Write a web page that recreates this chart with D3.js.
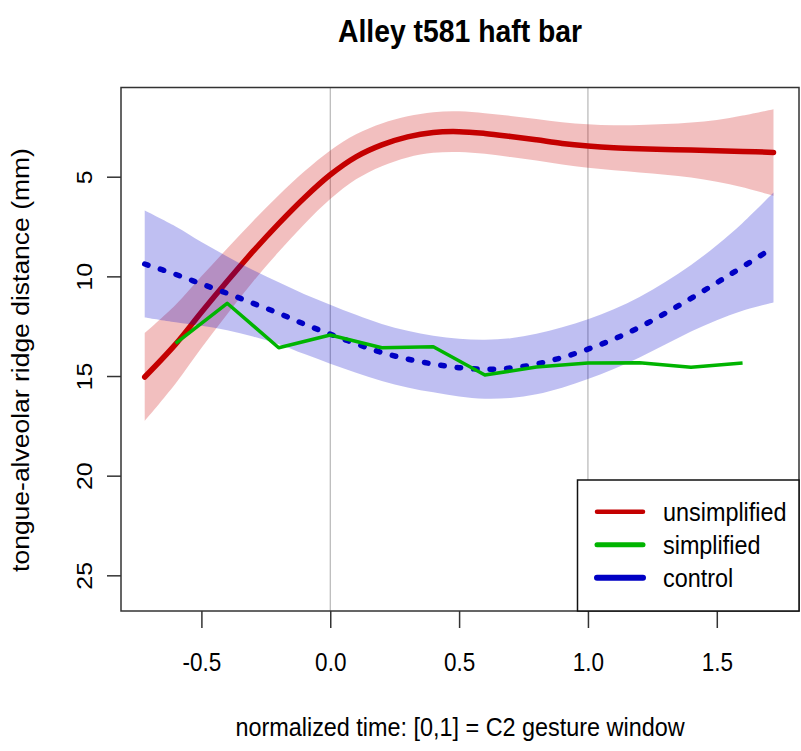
<!DOCTYPE html>
<html><head><meta charset="utf-8">
<script src="https://cdn.jsdelivr.net/npm/d3@7"></script>
<style>body{margin:0;background:#fff}text{font-family:"Liberation Sans",Arial,sans-serif;fill:#000}</style>
</head><body>
<svg id="c" width="801" height="751"></svg>
<script>
// ---- data ----
const timeGrid = [-0.72,-0.6,-0.5,-0.4,-0.3,-0.2,-0.1,0,0.1,0.2,0.3,0.4,0.5,0.6,0.7,0.8,0.9,1.0,1.1,1.2,1.3,1.4,1.5,1.6,1.72];
const unsimplifiedMean = [15.05,13.4,11.8,10.25,8.75,7.35,6.05,4.9,4.0,3.4,3.0,2.78,2.74,2.83,2.98,3.15,3.33,3.46,3.55,3.6,3.63,3.66,3.7,3.73,3.78];
const unsimplifiedCI = [2.2,1.97,1.8,1.65,1.52,1.42,1.32,1.22,1.13,1.07,1.03,1.02,1.02,1.02,1.03,1.04,1.06,1.09,1.13,1.19,1.27,1.38,1.55,1.8,2.17];
const controlMean = [9.38,9.9,10.38,10.85,11.35,11.85,12.4,12.9,13.38,13.82,14.15,14.4,14.58,14.66,14.6,14.4,14.07,13.65,13.15,12.55,11.85,11.1,10.32,9.52,8.55];
const controlCI = [2.68,2.4,2.1,1.85,1.67,1.55,1.5,1.48,1.45,1.43,1.42,1.42,1.45,1.48,1.5,1.52,1.52,1.5,1.5,1.52,1.57,1.67,1.88,2.2,2.76];
const simplifiedTime = [-0.6,-0.4,-0.2,0,0.2,0.4,0.6,0.8,1.0,1.2,1.4,1.6];
const simplifiedValues = [13.36,11.35,13.58,12.94,13.58,13.53,14.95,14.55,14.35,14.33,14.56,14.35];
const xTicks = [-0.5,0,0.5,1,1.5];
const yTicks = [5,10,15,20,25];
const refLines = [0,1];
const legendLabels = ["unsimplified","simplified","control"];
const titleText = "Alley t581 haft bar";
const xTitle = "normalized time: [0,1] = C2 gesture window";
const yTitle = "tongue-alveolar ridge distance (mm)";

// ---- layout ----
const L=121, R=799, T=87.5, B=611;
const SX = 0.9; // horizontal glyph compression
const svg = d3.select("#c");
const x = d3.scaleLinear().domain([-0.812, 1.819]).range([L, R]);
const y = d3.scaleLinear().domain([0.524, 26.79]).range([T, B]);

const colRed="#c40000", colBlue="#0000c4", colGreen="#00b400";

function hText(px, py, str, size, weight, anchor){
  return svg.append("text").attr("transform",`translate(${px},${py}) scale(${SX},1)`)
    .attr("text-anchor",anchor||"middle").style("font-size",size+"px")
    .style("font-weight",weight||"normal").text(str);
}

svg.append("defs").append("clipPath").attr("id","clip")
  .append("rect").attr("x",L).attr("y",T).attr("width",R-L).attr("height",B-T);
const plot = svg.append("g").attr("clip-path","url(#clip)");

// reference lines
plot.selectAll("line.ref").data(refLines).enter().append("line")
  .attr("x1",d=>x(d)).attr("x2",d=>x(d)).attr("y1",T).attr("y2",B)
  .attr("stroke","#a8a8a8").attr("stroke-width",1);

const curve = d3.curveCatmullRom.alpha(0.5);
const idx = d3.range(timeGrid.length);
function band(mean, ci){
  return d3.area().curve(curve).x(i=>x(timeGrid[i])).y0(i=>y(mean[i]-ci[i])).y1(i=>y(mean[i]+ci[i]));
}
function mline(mean){
  return d3.line().curve(curve).x(i=>x(timeGrid[i])).y(i=>y(mean[i]));
}

// unsimplified
plot.append("path").attr("d",band(unsimplifiedMean,unsimplifiedCI)(idx))
  .attr("fill","#cd0000").attr("fill-opacity",0.25);
plot.append("path").attr("d",mline(unsimplifiedMean)(idx))
  .attr("fill","none").attr("stroke",colRed).attr("stroke-width",5.5).attr("stroke-linecap","round");
// control
plot.append("path").attr("d",band(controlMean,controlCI)(idx))
  .attr("fill","#0000cd").attr("fill-opacity",0.25);
plot.append("path").attr("d",mline(controlMean)(idx))
  .attr("fill","none").attr("stroke",colBlue).attr("stroke-width",5.5)
  .attr("stroke-linecap","round").attr("stroke-dasharray","3.5 13");
// simplified
plot.append("path").attr("d",d3.line().x((d,i)=>x(simplifiedTime[i])).y(d=>y(d))(simplifiedValues))
  .attr("fill","none").attr("stroke",colGreen).attr("stroke-width",3.5).attr("stroke-linejoin","round");

// axes
const xa = svg.append("g").attr("transform",`translate(0,${B})`)
  .call(d3.axisBottom(x).tickValues(xTicks).tickSize(17).tickFormat(d=>d.toFixed(1)));
xa.select(".domain").remove();
xa.selectAll(".tick line").attr("stroke","#333").attr("stroke-width",1.5);
xa.selectAll(".tick text").attr("y",0).attr("dy",0)
  .attr("transform",`translate(0,60) scale(${SX},1)`).style("font-size","25px")
  .style("font-family",'"Liberation Sans",Arial,sans-serif').attr("fill","#000");

const ya = svg.append("g").attr("transform",`translate(${L},0)`)
  .call(d3.axisLeft(y).tickValues(yTicks).tickSize(14));
ya.select(".domain").remove();
ya.selectAll(".tick line").attr("stroke","#333").attr("stroke-width",1.5);
ya.selectAll(".tick text").attr("x",0).attr("y",0).attr("dy",0).attr("text-anchor","middle")
  .attr("transform",`translate(-29,0) scale(${SX},1) rotate(-90)`).style("font-size","25px")
  .style("font-family",'"Liberation Sans",Arial,sans-serif').attr("fill","#000");

// box
svg.append("rect").attr("x",L).attr("y",T).attr("width",R-L).attr("height",B-T)
  .attr("fill","none").attr("stroke","#333").attr("stroke-width",1.5);

// titles
hText(460, 42, titleText, 31.5, "bold");
hText(460, 736, xTitle, 26);
svg.append("text").attr("transform",`translate(29,360) scale(${SX},1) rotate(-90)`)
  .attr("text-anchor","middle").style("font-size","26.5px").text(yTitle);

// legend
const lg = svg.append("g");
lg.append("rect").attr("x",577.5).attr("y",480).attr("width",R-577.5).attr("height",B-480)
  .attr("fill","#fff").attr("stroke","#111").attr("stroke-width",1.5);
const legCols=[colRed,colGreen,colBlue], legW=[4.5,5,6];
legendLabels.forEach((lab,i)=>{
  const ly = 511.7 + i*33;
  lg.append("line").attr("x1",597).attr("x2",643).attr("y1",ly).attr("y2",ly)
    .attr("stroke",legCols[i]).attr("stroke-width",legW[i]).attr("stroke-linecap","round");
  svg.append("text").attr("transform",`translate(663,${ly+9.5}) scale(${SX},1)`)
    .style("font-size","26px").text(lab);
});
</script>
</body></html>
